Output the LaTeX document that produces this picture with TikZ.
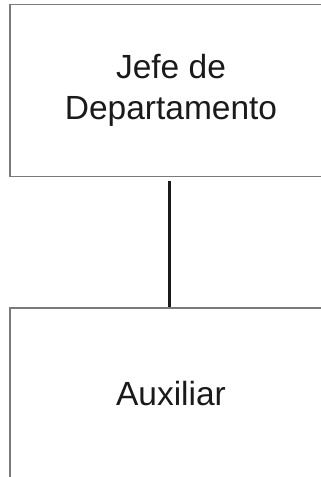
\documentclass[tikz,border=0pt]{standalone}
\usepackage{fontspec}
\setmainfont{Liberation Sans}
\usepackage{tikz}
\usetikzlibrary{calc}
\usetikzlibrary{positioning}
\definecolor{bordegris}{HTML}{7A7A7A}
\definecolor{textonegro}{HTML}{1A1A1A}
\tikzset{caja/.style={rectangle,draw=bordegris,line width=1.1pt,minimum width=322pt,minimum height=172pt,inner sep=0pt,align=center,text=textonegro,font=\fontsize{33.5}{41}\selectfont}}
\begin{document}
\begin{tikzpicture}[x=1pt,y=1pt]
				\clip (0,0) rectangle (321,-477);
				\path 
				(171,-90.6) node(a) [caja] {Jefe de\\Departamento}
				(171,-394) node(b) [caja] {Auxiliar};
				\draw   
				([xshift=-1.5pt]a.south) edge[line width=3.5pt,draw=textonegro,shorten <=4pt] ([xshift=-1.5pt]b.north);
			\end{tikzpicture}
\end{document}
